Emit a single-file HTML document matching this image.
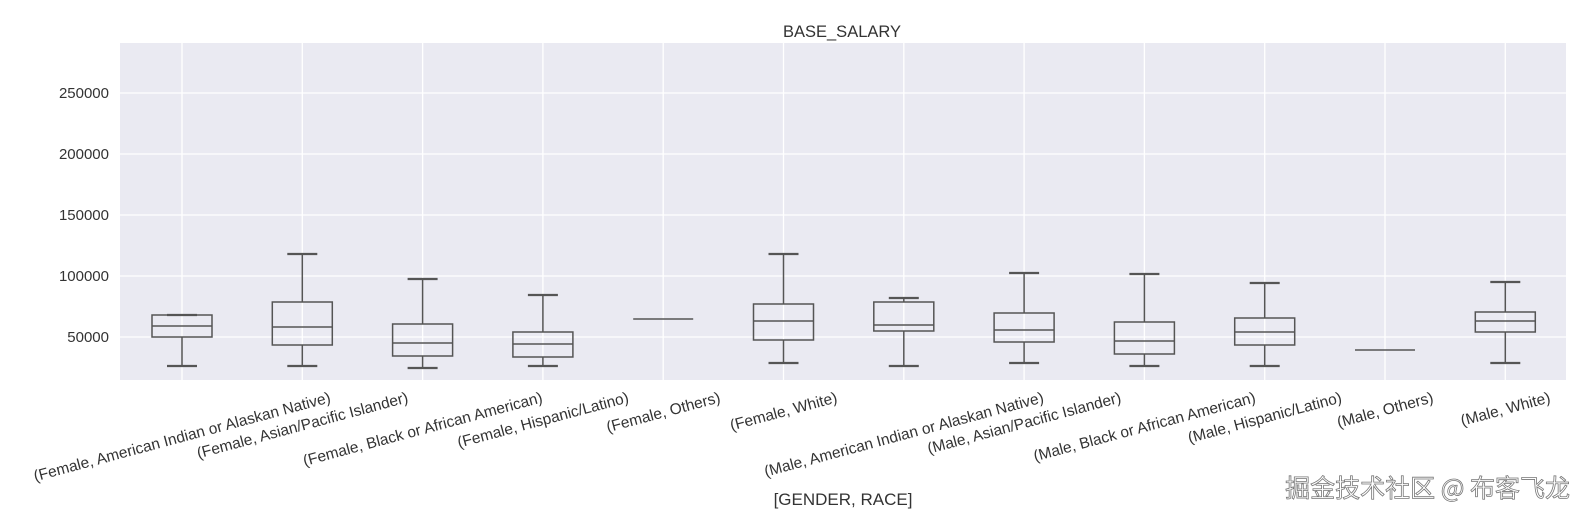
<!DOCTYPE html>
<html><head><meta charset="utf-8"><style>
html,body{margin:0;padding:0;background:#fff;}
svg{display:block;font-family:"Liberation Sans",Arial,sans-serif;}
</style></head><body>
<svg id="s" width="1586" height="519" xmlns="http://www.w3.org/2000/svg">
<rect x="120" y="43" width="1446" height="337" fill="#eaeaf2"/>
<g stroke="#fff" stroke-width="1.3">
<line x1="120" x2="1566" y1="93" y2="93"/><line x1="120" x2="1566" y1="154" y2="154"/>
<line x1="120" x2="1566" y1="215" y2="215"/><line x1="120" x2="1566" y1="276" y2="276"/>
<line x1="120" x2="1566" y1="337" y2="337"/>
</g>
<g id="vg" stroke="#fff" stroke-width="1.3"></g>
<g font-size="15" fill="#333" text-anchor="end">
<text x="109" y="98">250000</text><text x="109" y="159">200000</text>
<text x="109" y="220">150000</text><text x="109" y="281">100000</text>
<text x="109" y="342">50000</text>
</g>
<text x="842" y="37" font-size="16.5" fill="#333" text-anchor="middle">BASE_SALARY</text>
<text x="843" y="505" font-size="17" fill="#333" text-anchor="middle">[GENDER, RACE]</text>
<g id="bx" stroke="#555" stroke-width="1.5" fill="none"></g>
<g id="lb" font-size="15.5" fill="#333"></g>
<text x="1570" y="497" font-size="25" fill="#fff" stroke="#777" stroke-width="0.8" text-anchor="end" font-family="'Noto Sans CJK SC',sans-serif">掘金技术社区 @ 布客飞龙</text>
</svg>
<script>
var ns="http://www.w3.org/2000/svg";
var labels=["(Female, American Indian or Alaskan Native)","(Female, Asian/Pacific Islander)","(Female, Black or African American)","(Female, Hispanic/Latino)","(Female, Others)","(Female, White)","(Male, American Indian or Alaskan Native)","(Male, Asian/Pacific Islander)","(Male, Black or African American)","(Male, Hispanic/Latino)","(Male, Others)","(Male, White)"];
var d=[[315,315,326,337,366],[254,302,327,345,366],[279,324,343,356,368],[295,332,344,357,366],null,[254,304,321,340,363],[298,302,325,331,366],[273,313,330,342,363],[274,322,341,354,366],[283,318,332,345,366],null,[282,312,321,332,363]];
var flat={4:319,10:350};
function el(t,a,p){var e=document.createElementNS(ns,t);for(var k in a)e.setAttribute(k,a[k]);p.appendChild(e);return e;}
var vg=document.getElementById("vg"),bx=document.getElementById("bx"),lb=document.getElementById("lb");
for(var i=0;i<12;i++){
 var x=182+i*120.3;
 el("line",{x1:x,x2:x,y1:43,y2:380},vg);
 if(d[i]){var v=d[i];
  el("line",{x1:x,x2:x,y1:v[0],y2:v[1]},bx);
  el("line",{x1:x,x2:x,y1:v[3],y2:v[4]},bx);
  el("line",{x1:x-15,x2:x+15,y1:v[0],y2:v[0],"stroke-width":2.2},bx);
  el("line",{x1:x-15,x2:x+15,y1:v[4],y2:v[4],"stroke-width":2.2},bx);
  el("rect",{x:x-30,y:v[1],width:60,height:v[3]-v[1]},bx);
  el("line",{x1:x-30,x2:x+30,y1:v[2],y2:v[2]},bx);
 } else {
  el("line",{x1:x-30,x2:x+30,y1:flat[i],y2:flat[i]},bx);
 }
 var t=el("text",{x:x,y:0,"text-anchor":"middle"},lb);t.textContent=labels[i];
 var w=t.getComputedTextLength();
 var s=Math.sin(15*Math.PI/180),c=Math.cos(15*Math.PI/180);
 var cy=389+(w*s+16*c)/2;
 t.setAttribute("y",cy+5.5);
 t.setAttribute("transform","rotate(-15 "+x+" "+cy+")");
}
</script>
</body></html>
